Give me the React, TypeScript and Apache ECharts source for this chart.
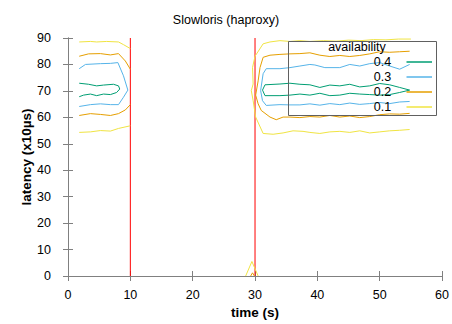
import React, { useEffect, useRef } from "react";
import * as echarts from "echarts";

// ---- data ----
const xTicks = [0, 10, 20, 30, 40, 50, 60];
const yTicks = [0, 10, 20, 30, 40, 50, 60, 70, 80, 90];
const levels = ["0.4", "0.3", "0.2", "0.1"];
const levelColors = ["#009e73", "#56b4e9", "#e69f00", "#f0e442"];
const attackStart = 10;
const attackEnd = 30;

// availability 0.4 contours
const lvl04Left = [[1.8,72.9],[3.3,72.5],[4.6,71.9],[5.7,72.2],[7.3,72.5],[8.1,71.9],[8.3,70.7],[7.8,69.4],[6.8,68.6],[5.7,68.8],[4.6,68.2],[3.6,68.8],[2.5,68.4],[1.8,67.8]];
const lvl04Right = [[31.6,72.3],[34.0,72.6],[35.6,72.9],[37.2,72.5],[38.8,72.3],[40.4,71.3],[42.0,72.2],[43.6,71.9],[45.2,72.5],[46.8,71.5],[48.4,71.9],[50.0,72.8],[51.6,72.3],[53.2,71.3],[54.8,70.3],[53.2,69.4],[51.6,68.6],[50.0,68.4],[48.4,68.6],[46.8,68.8],[45.2,69.1],[43.6,68.4],[42.0,68.2],[40.4,69.1],[38.8,68.4],[37.2,68.8],[35.6,68.4],[34.0,68.2],[31.6,68.2],[31.2,70.3],[31.6,72.3]];

// availability 0.3 contours
const lvl03Left = [[1.8,78.4],[2.8,80.0],[5.2,80.3],[6.8,80.4],[8.0,80.7],[8.9,75.7],[9.6,70.3],[8.9,67.6],[8.1,64.8],[6.8,64.8],[5.2,65.1],[3.6,64.8],[1.8,64.1]];
const lvl03Right = [[54.8,80.0],[53.2,78.2],[51.6,79.4],[50.0,80.7],[48.4,80.3],[46.8,79.4],[45.2,80.0],[43.6,78.8],[41.2,78.8],[39.6,79.8],[38.8,80.0],[37.2,79.4],[35.6,78.8],[34.0,78.4],[31.8,78.4],[31.3,76.5],[30.9,70.1],[31.2,66.3],[31.8,64.5],[34.0,64.8],[35.6,64.7],[37.2,64.7],[38.8,65.1],[40.4,64.6],[42.0,65.2],[43.6,64.8],[45.2,65.4],[46.8,64.9],[48.4,65.2],[50.0,65.6],[51.6,65.2],[53.2,65.8],[54.8,66.0]];

// availability 0.2 contours
const lvl02LeftTop = [[1.8,83.1],[3.3,84.0],[5.2,84.1],[6.8,83.6],[8.1,84.1],[9.2,81.3],[10,78.2]];
const lvl02LeftBottom = [[1.8,60.7],[3.6,61.4],[5.2,61.1],[6.8,60.7],[8.1,61.4],[9.2,62.8],[10,64.8]];
const lvl02Right = [[54.8,85.0],[53.2,84.8],[51.6,84.6],[50.0,84.8],[48.4,84.0],[46.8,83.4],[45.2,83.0],[43.6,83.4],[42.0,83.0],[40.4,83.5],[38.8,84.4],[37.2,84.1],[35.6,84.0],[34.0,83.8],[32.4,83.5],[31.3,82.7],[30.8,78.8],[30.5,73.8],[30.1,68.4],[30.5,65.1],[31.0,62.6],[32.4,60.1],[33.4,59.1],[34.5,60.1],[35.6,60.1],[37.2,59.9],[38.8,60.3],[40.4,60.1],[42.0,60.7],[43.6,60.1],[45.2,60.5],[46.8,59.9],[48.4,60.3],[50.0,61.0],[51.6,61.3],[53.2,61.2],[54.8,61.5]];
const lvl02Spike = [[29.3,0],[29.6,1.2],[29.9,0]];

// availability 0.1 contours
const lvl01LeftTop = [[1.8,88.5],[3.6,88.7],[4.6,88.5],[6.2,88.7],[8.1,88.5],[8.9,87.5],[10,86.0]];
const lvl01LeftBottom = [[1.8,54.3],[3.6,54.5],[5.2,55.0],[6.8,54.8],[8.1,55.8],[10,56.8]];
const lvl01Right = [[55.0,89.6],[53.0,89.6],[51.0,89.3],[49.0,89.4],[47.0,89.0],[45.0,89.2],[43.0,88.8],[41.0,89.0],[38.8,88.7],[37.2,89.0],[35.6,88.7],[34.0,89.0],[32.4,88.5],[31.3,87.8],[30.0,83.1],[29.6,78.8],[29.7,72.6],[29.4,70.1],[29.7,66.3],[30.1,60.1],[31.3,53.9],[32.9,53.6],[34.5,54.1],[36.1,54.9],[37.7,54.7],[38.8,54.3],[40.4,53.9],[42.0,54.5],[43.6,54.7],[45.2,54.3],[46.8,54.9],[48.4,54.1],[50.0,54.5],[51.6,54.9],[53.2,55.1],[54.8,55.4]];
const lvl01Spike = [[28.5,0],[29.5,5.5],[30.5,0]];

const FONT = "'Liberation Sans', Arial, sans-serif";
const FRAME = "#808080";

export default function App() {
  const ref = useRef<HTMLDivElement>(null);
  useEffect(() => {
    if (!ref.current) return;
    const chart = echarts.init(ref.current, undefined, { renderer: "svg" });

    const contour = (name: string, data: number[][]) => {
      const c = levelColors[levels.indexOf(name)];
      return {
        type: "line",
        name,
        data,
        showSymbol: false,
        symbol: "none",
        silent: true,
        lineStyle: { color: c, width: 1 },
        itemStyle: { color: c },
        z: 3,
      };
    };
    const vline = (x: number) => ({
      type: "line",
      name: "attack",
      data: [[x, yTicks[0]], [x, yTicks[yTicks.length - 1]]],
      showSymbol: false,
      symbol: "none",
      silent: true,
      lineStyle: { color: "#ff0000", width: 1 },
      z: 2,
    });

    const axisCommon = {
      type: "value",
      axisLine: { show: true, lineStyle: { color: FRAME, width: 1 } },
      axisTick: { show: true, inside: true, length: 5, lineStyle: { color: FRAME } },
      splitLine: { show: false },
    };

    chart.setOption({
      animation: false,
      backgroundColor: "#ffffff",
      textStyle: { fontFamily: FONT },
      title: {
        text: "Slowloris (haproxy)",
        left: "center",
        top: 8,
        textStyle: { fontFamily: FONT, fontSize: 12.5, fontWeight: "normal", color: "#000" },
      },
      grid: { left: 68, right: 9, top: 38, bottom: 45, containLabel: false },
      xAxis: [
        {
          ...axisCommon,
          position: "bottom",
          min: xTicks[0],
          max: xTicks[xTicks.length - 1],
          interval: 10,
          axisLabel: { margin: 12, fontSize: 12.5, color: "#000", fontFamily: FONT },
          name: "time (s)",
          nameLocation: "middle",
          nameGap: 29,
          nameMoveOverlap: false,
          nameTextStyle: { fontSize: 13.5, fontWeight: "bold", color: "#000", fontFamily: FONT },
        },
        {
          ...axisCommon,
          position: "top",
          min: xTicks[0],
          max: xTicks[xTicks.length - 1],
          interval: 10,
          axisLabel: { show: false },
        },
      ],
      yAxis: [
        {
          ...axisCommon,
          position: "left",
          min: yTicks[0],
          max: yTicks[yTicks.length - 1],
          interval: 10,
          axisLabel: { margin: 17, fontSize: 12.5, color: "#000", fontFamily: FONT },
          name: "latency (x10µs)",
          nameLocation: "middle",
          nameGap: 35,
          nameMoveOverlap: false,
          nameRotate: 90,
          nameTextStyle: { fontSize: 13.5, fontWeight: "bold", color: "#000", fontFamily: FONT },
        },
        {
          ...axisCommon,
          position: "right",
          min: yTicks[0],
          max: yTicks[yTicks.length - 1],
          interval: 10,
          axisLabel: { show: false },
        },
      ],
      legend: {
        data: levels,
        orient: "vertical",
        right: 20,
        top: 55,
        padding: 0,
        align: "right",
        icon: "path://M0,0M7,0h34v2h-34z",
        itemWidth: 41,
        itemHeight: 1.5,
        itemGap: 1,
        selectedMode: false,
        textStyle: { fontSize: 12.5, color: "#000", fontFamily: FONT, lineHeight: 14 },
      },
      graphic: [
        {
          type: "rect",
          shape: { x: 288.5, y: 41.5, width: 148, height: 74 },
          style: { fill: "none", stroke: "#606060", lineWidth: 1 },
          silent: true,
          z: 10,
        },
        {
          type: "text",
          x: 357,
          y: 47,
          style: {
            text: "availability",
            fill: "#000",
            font: `12.5px ${FONT}`,
            textAlign: "center",
            textVerticalAlign: "middle",
          },
          silent: true,
          z: 10,
        },
      ],
      series: [
        vline(attackStart),
        vline(attackEnd),
        contour("0.4", lvl04Left),
        contour("0.4", lvl04Right),
        contour("0.3", lvl03Left),
        contour("0.3", lvl03Right),
        contour("0.2", lvl02LeftTop),
        contour("0.2", lvl02LeftBottom),
        contour("0.2", lvl02Right),
        contour("0.2", lvl02Spike),
        contour("0.1", lvl01LeftTop),
        contour("0.1", lvl01LeftBottom),
        contour("0.1", lvl01Right),
        contour("0.1", lvl01Spike),
      ],
    });
    return () => chart.dispose();
  }, []);

  return <div ref={ref} style={{ width: 452, height: 324, position: "absolute", left: 0, top: 0 }} />;
}
